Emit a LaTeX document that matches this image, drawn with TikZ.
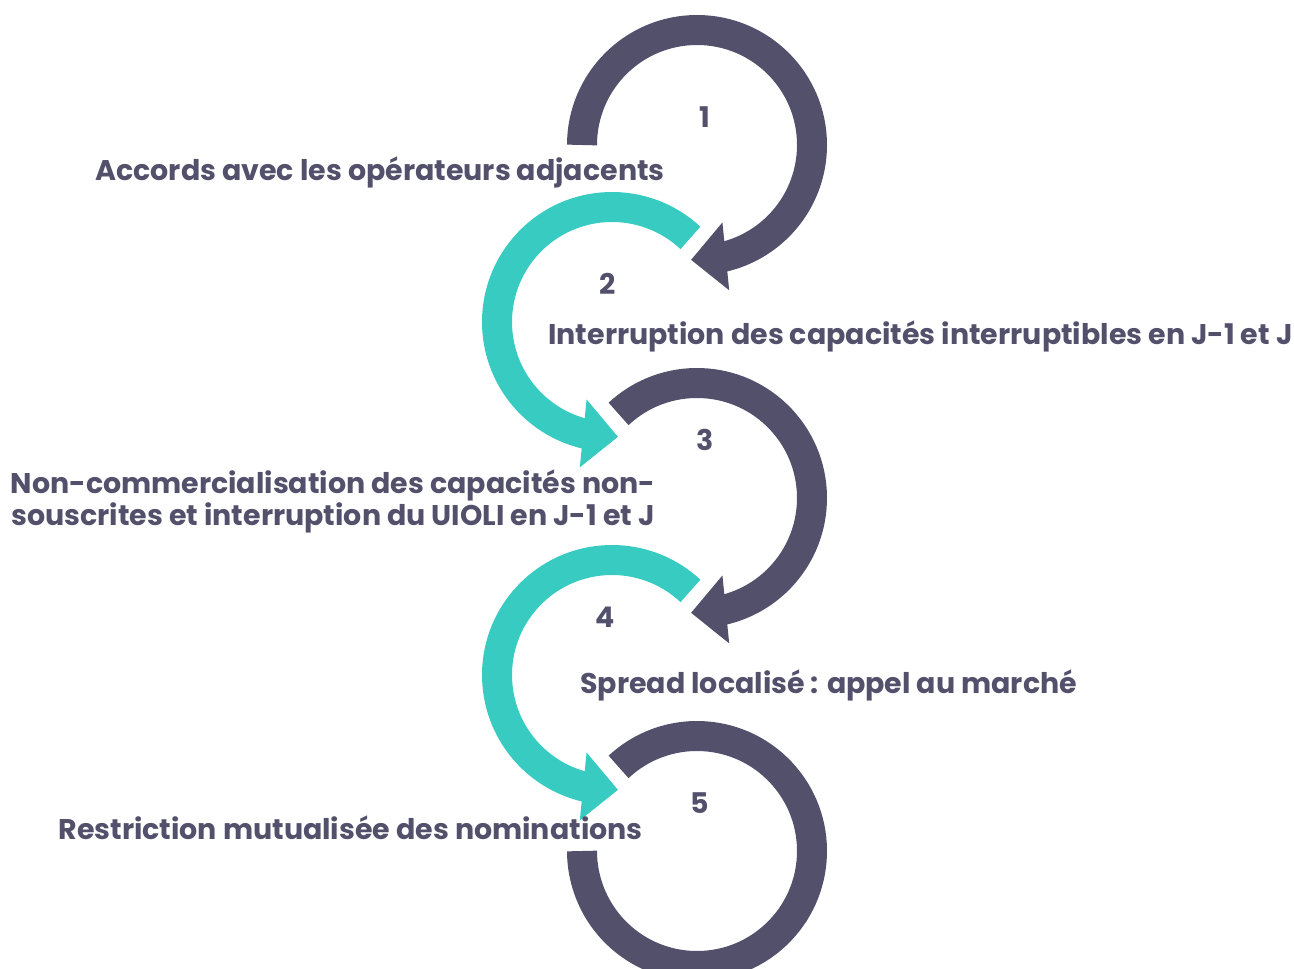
\documentclass[tikz,border=0pt]{standalone}
\usepackage{xcolor}
\usepackage{fontspec}
\setmainfont{Poppins}
\usepackage{tikz}
\usetikzlibrary{arrows.meta,bending}
\definecolor{slate}{RGB}{83, 80, 108}
\definecolor{aqua}{RGB}{56, 203, 193}
\tikzstyle{ring}=[line width=0.6cm]
\tikzstyle{ringarrow}=[ring,-{Triangle[length=0.7cm,width=1.32cm]}]
\tikzstyle{caption}=[text=slate,inner sep=0pt,font=\bfseries\fontsize{16.2}{18.2}\selectfont]

\begin{document}
\begin{tikzpicture}[x=0.02cm,y=0.02cm]
\newcommand{\rad}{115}
\clip (0,0) rectangle (1294,-969);
\coordinate (c1) at (697,-145);
\coordinate (c2) at (612,-322);
\coordinate (c3) at (697,-498);
\coordinate (c4) at (612,-675);
\coordinate (c5) at (697,-851);
\draw[ringarrow, slate]
  (c1) ++(180:\rad) arc[start angle=180, end angle=-93, radius=\rad];
\draw[ringarrow, aqua]
  (c2) ++(47:\rad) arc[start angle=47, end angle=273, radius=\rad];
\draw[ringarrow, slate]
  (c3) ++(133:\rad) arc[start angle=133, end angle=-93, radius=\rad];
\draw[ringarrow, aqua]
  (c4) ++(47:\rad) arc[start angle=47, end angle=273, radius=\rad];
\draw[ring, slate]
  (c5) ++(133:\rad) arc[start angle=133, end angle=-180, radius=\rad];
\node[caption, anchor=base] (n1) at (705,-128) {1};
\node[caption, anchor=base] (n2) at (608,-295) {2};
\node[caption, anchor=base] (n3) at (705,-450) {3};
\node[caption, anchor=base] (n4) at (605,-627) {4};
\node[caption, anchor=base] (n5) at (700,-813) {5};
\node[caption, anchor=base east] (accords) at (665,-181)
  {Accords avec les opérateurs adjacents};
\node[caption, anchor=base west] (interruption) at (548,-344)
  {Interruption des capacités interruptibles en J-1 et J};
\node[caption, align=center] (noncom) at (333,-501)
  {Non-commercialisation des capacités non-\\souscrites et interruption du UIOLI en J-1 et J};
\node[caption, anchor=base west] (spread) at (580,-693)
  {Spread localisé : appel au marché};
\node[caption, anchor=base east] (restriction) at (643,-839)
  {Restriction mutualisée des nominations};
\end{tikzpicture}
\end{document}
